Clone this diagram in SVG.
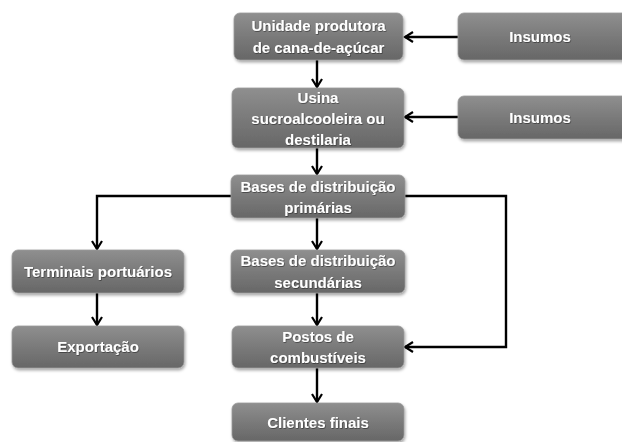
<svg xmlns="http://www.w3.org/2000/svg" width="622" height="442" viewBox="0 0 622 442">
<defs>
<linearGradient id="g" x1="0" y1="0" x2="0" y2="1">
<stop offset="0" stop-color="#8f8f8f"/>
<stop offset="0.5" stop-color="#7a7a7a"/>
<stop offset="1" stop-color="#676767"/>
</linearGradient>
<filter id="sh" x="-10%" y="-20%" width="120%" height="150%">
<feDropShadow dx="1" dy="2" stdDeviation="1.5" flood-color="#000" flood-opacity="0.35"/>
</filter>
<filter id="ts" x="-5%" y="-20%" width="110%" height="150%">
<feDropShadow dx="0.6" dy="0.8" stdDeviation="0.5" flood-color="#000" flood-opacity="0.5"/>
</filter>
<marker id="ah" viewBox="0 0 12 12" refX="10" refY="6" markerWidth="12" markerHeight="12" markerUnits="userSpaceOnUse" orient="auto">
<path d="M2,1 L10,6 L2,11" fill="none" stroke="#000" stroke-width="2.2"/>
</marker>
<style>
.box{fill:url(#g);stroke:#9a9a9a;stroke-width:0.8;filter:url(#sh)}
.t{font-family:"Liberation Sans",Arial,sans-serif;font-weight:bold;font-size:15px;fill:#fff;text-anchor:middle;filter:url(#ts)}
.c{fill:none;stroke:#000;stroke-width:2.4;marker-end:url(#ah)}
</style>
</defs>
<g id="connectors">
<line class="c" x1="458" y1="37" x2="405" y2="37"/>
<line class="c" x1="317" y1="60" x2="317" y2="87"/>
<line class="c" x1="458" y1="117" x2="405" y2="117"/>
<line class="c" x1="317" y1="148" x2="317" y2="174"/>
<polyline class="c" points="231,196 97,196 97,249"/>
<line class="c" x1="317" y1="218" x2="317" y2="249"/>
<polyline class="c" points="405,196 506,196 506,347 405,347"/>
<line class="c" x1="317" y1="293" x2="317" y2="325"/>
<line class="c" x1="97" y1="293" x2="97" y2="325"/>
<line class="c" x1="317" y1="368" x2="317" y2="402"/>
</g>
<g id="unidade">
<rect class="box" x="234" y="13" width="169" height="47" rx="6"/>
<text class="t" x="318.5" y="31">Unidade produtora</text>
<text class="t" x="318.5" y="53">de cana-de-açúcar</text>
</g>
<g id="insumos1">
<rect class="box" x="458" y="13" width="180" height="47" rx="6"/>
<text class="t" x="540" y="42">Insumos</text>
</g>
<g id="usina">
<rect class="box" x="232" y="88" width="172" height="60" rx="6"/>
<text class="t" x="318" y="103">Usina</text>
<text class="t" x="318" y="124">sucroalcooleira ou</text>
<text class="t" x="318" y="145">destilaria</text>
</g>
<g id="insumos2">
<rect class="box" x="458" y="96" width="180" height="43" rx="6"/>
<text class="t" x="540" y="123">Insumos</text>
</g>
<g id="bases-primarias">
<rect class="box" x="231" y="175" width="174" height="43" rx="6"/>
<text class="t" x="318" y="192">Bases de distribuição</text>
<text class="t" x="318" y="213">primárias</text>
</g>
<g id="terminais">
<rect class="box" x="12" y="250" width="172" height="43" rx="6"/>
<text class="t" x="98" y="277">Terminais portuários</text>
</g>
<g id="bases-secundarias">
<rect class="box" x="231" y="250" width="174" height="43" rx="6"/>
<text class="t" x="318" y="266">Bases de distribuição</text>
<text class="t" x="318" y="288">secundárias</text>
</g>
<g id="exportacao">
<rect class="box" x="12" y="326" width="172" height="42" rx="6"/>
<text class="t" x="98" y="352">Exportação</text>
</g>
<g id="postos">
<rect class="box" x="232" y="326" width="172" height="42" rx="6"/>
<text class="t" x="318" y="342">Postos de</text>
<text class="t" x="318" y="363">combustíveis</text>
</g>
<g id="clientes">
<rect class="box" x="232" y="403" width="172" height="38" rx="6"/>
<text class="t" x="318" y="428">Clientes finais</text>
</g>
</svg>
